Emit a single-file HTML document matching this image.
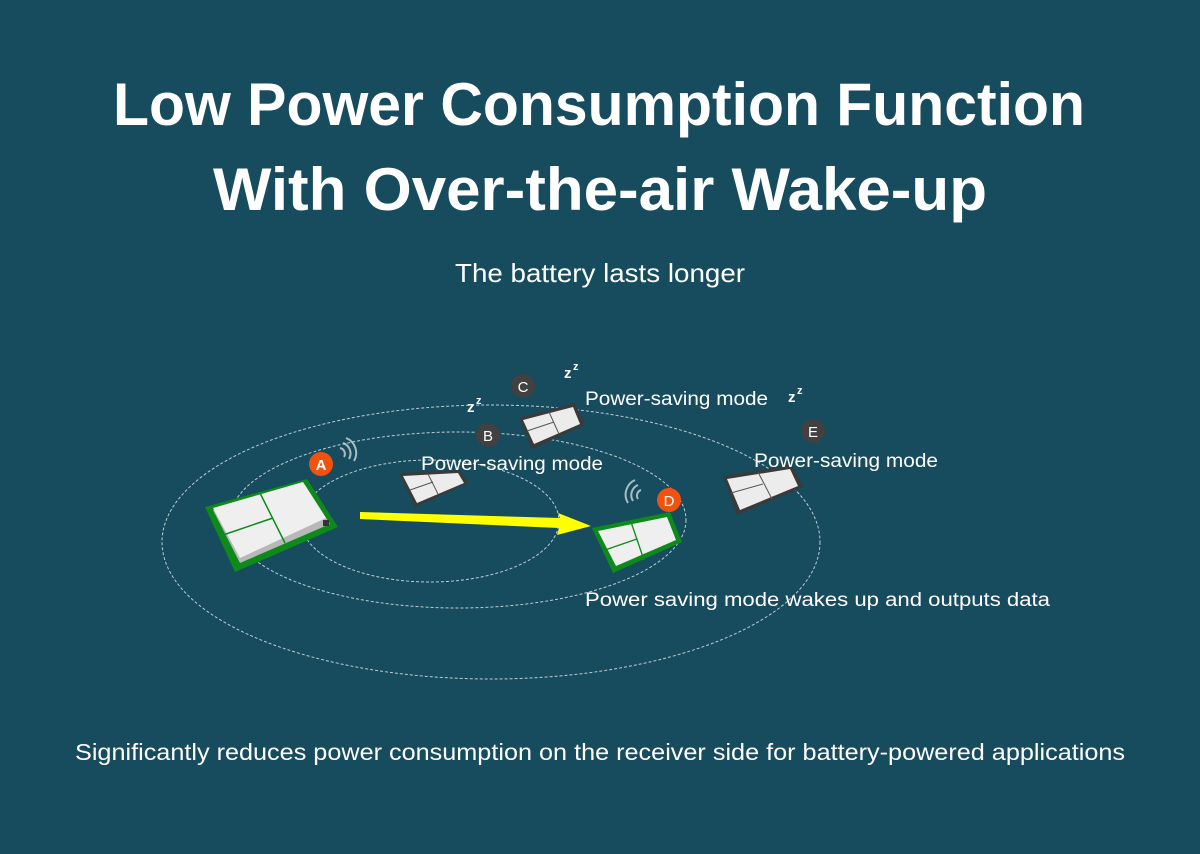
<!DOCTYPE html>
<html><head><meta charset="utf-8"><style>
html,body{margin:0;padding:0;background:#174b5e;}
svg{display:block;font-family:"Liberation Sans",sans-serif;}
</style></head><body>
<svg width="1200" height="854" viewBox="0 0 1200 854" xmlns="http://www.w3.org/2000/svg">
<rect width="1200" height="854" fill="#174b5e"/>
<g fill="#fff">
<text x="113" y="125" font-size="60" font-weight="bold" textLength="972" lengthAdjust="spacingAndGlyphs">Low Power Consumption Function</text>
<text x="213" y="210" font-size="60" font-weight="bold" textLength="774" lengthAdjust="spacingAndGlyphs">With Over-the-air Wake-up</text>
<text x="455" y="282" font-size="26" textLength="290" lengthAdjust="spacingAndGlyphs">The battery lasts longer</text>
<text x="75" y="760" font-size="23" textLength="1050" lengthAdjust="spacingAndGlyphs">Significantly reduces power consumption on the receiver side for battery-powered applications</text>
</g>
<g fill="none" stroke="#d8e4e8" stroke-width="1" stroke-dasharray="3,2" opacity="0.85">
<ellipse cx="491" cy="542" rx="329" ry="137"/>
<ellipse cx="458" cy="520" rx="228" ry="88"/>
<ellipse cx="430" cy="521" rx="129" ry="61"/>
</g>
<!-- Module A -->
<polygon points="205,507 307,479 338,527 235,572" fill="#0e8a1a"/>
<polygon points="213,510 305,485 330,524 240,563" fill="#b8b8b8"/>
<polygon points="213,508 303,482 326,518 240,558" fill="#efefef"/>
<line x1="260" y1="493" x2="285" y2="543" stroke="#0e8a1a" stroke-width="1.5"/>
<line x1="223" y1="535" x2="273" y2="518" stroke="#0e8a1a" stroke-width="1.5"/>
<rect x="323" y="520" width="6" height="6" fill="#333"/>
<!-- Module D -->
<polygon points="592,528 670,512 682,542 613,573" fill="#0e8a1a"/>
<polygon points="598,531 667,517 676,540 616,566" fill="#efefef"/>
<line x1="631" y1="522" x2="644" y2="560" stroke="#0e8a1a" stroke-width="1.3"/>
<line x1="605" y1="550" x2="637" y2="539" stroke="#0e8a1a" stroke-width="1.3"/>
<!-- Module B -->
<polygon points="399,473 460,470 468,483 415,507" fill="#3a3a3a"/>
<polygon points="403,476 458,473 464,483 417,503" fill="#ececec"/>
<line x1="428" y1="474" x2="438" y2="494" stroke="#555" stroke-width="1"/>
<line x1="410" y1="490" x2="433" y2="482" stroke="#555" stroke-width="1"/>
<!-- Module C -->
<polygon points="519,418 575,403 585,425 532,449" fill="#3a3a3a"/>
<polygon points="523,420 573,407 580,424 534,444" fill="#ececec"/>
<line x1="549" y1="412" x2="559" y2="434" stroke="#555" stroke-width="1"/>
<line x1="527" y1="431" x2="554" y2="422" stroke="#555" stroke-width="1"/>
<!-- Module E -->
<polygon points="723,476 792,465 803,487 737,515" fill="#3a3a3a"/>
<polygon points="727,479 790,469 798,486 740,510" fill="#ececec"/>
<line x1="758" y1="472" x2="772" y2="499" stroke="#555" stroke-width="1"/>
<line x1="731" y1="493" x2="763" y2="484" stroke="#555" stroke-width="1"/>
<!-- Arrow -->
<polygon points="360,512 560,518 558,513 591,526 557,535 559,528 360,519" fill="#ffff00"/>
<!-- Wifi -->
<g fill="none" stroke="#cfdadd" stroke-width="2" opacity="0.8">
<path d="M340,448 a6,6 0 0 1 4,9"/>
<path d="M343,443 a11,11 0 0 1 6,16"/>
<path d="M346,438 a16,16 0 0 1 8,23"/>
<path d="M641,490 a6,6 0 0 0 -3,9"/>
<path d="M638,485 a11,11 0 0 0 -5,16"/>
<path d="M635,480 a16,16 0 0 0 -7,23"/>
</g>
<!-- Badges -->
<g font-size="15" text-anchor="middle" fill="#fff">
<circle cx="321" cy="464" r="12" fill="#f0520f"/><text x="321" y="470" font-weight="bold">A</text>
<circle cx="488" cy="435" r="12" fill="#414141"/><text x="488" y="441">B</text>
<circle cx="523" cy="386" r="12" fill="#414141"/><text x="523" y="392">C</text>
<circle cx="669" cy="500" r="12" fill="#f0520f"/><text x="669" y="506">D</text>
<circle cx="813" cy="431" r="12" fill="#414141"/><text x="813" y="437">E</text>
</g>
<!-- zz -->
<g fill="#fff" font-weight="bold">
<text x="467" y="412" font-size="15">z</text><text x="476" y="404" font-size="11">z</text>
<text x="564" y="378" font-size="15">z</text><text x="573" y="370" font-size="11">z</text>
<text x="788" y="402" font-size="15">z</text><text x="797" y="394" font-size="11">z</text>
</g>
<!-- Labels -->
<g fill="#fff" font-size="19">
<text x="585" y="405" textLength="183" lengthAdjust="spacingAndGlyphs">Power-saving mode</text>
<text x="421" y="470" textLength="182" lengthAdjust="spacingAndGlyphs">Power-saving mode</text>
<text x="754" y="467" textLength="184" lengthAdjust="spacingAndGlyphs">Power-saving mode</text>
<text x="585" y="606" textLength="465" lengthAdjust="spacingAndGlyphs">Power saving mode wakes up and outputs data</text>
</g>
</svg>
</body></html>
